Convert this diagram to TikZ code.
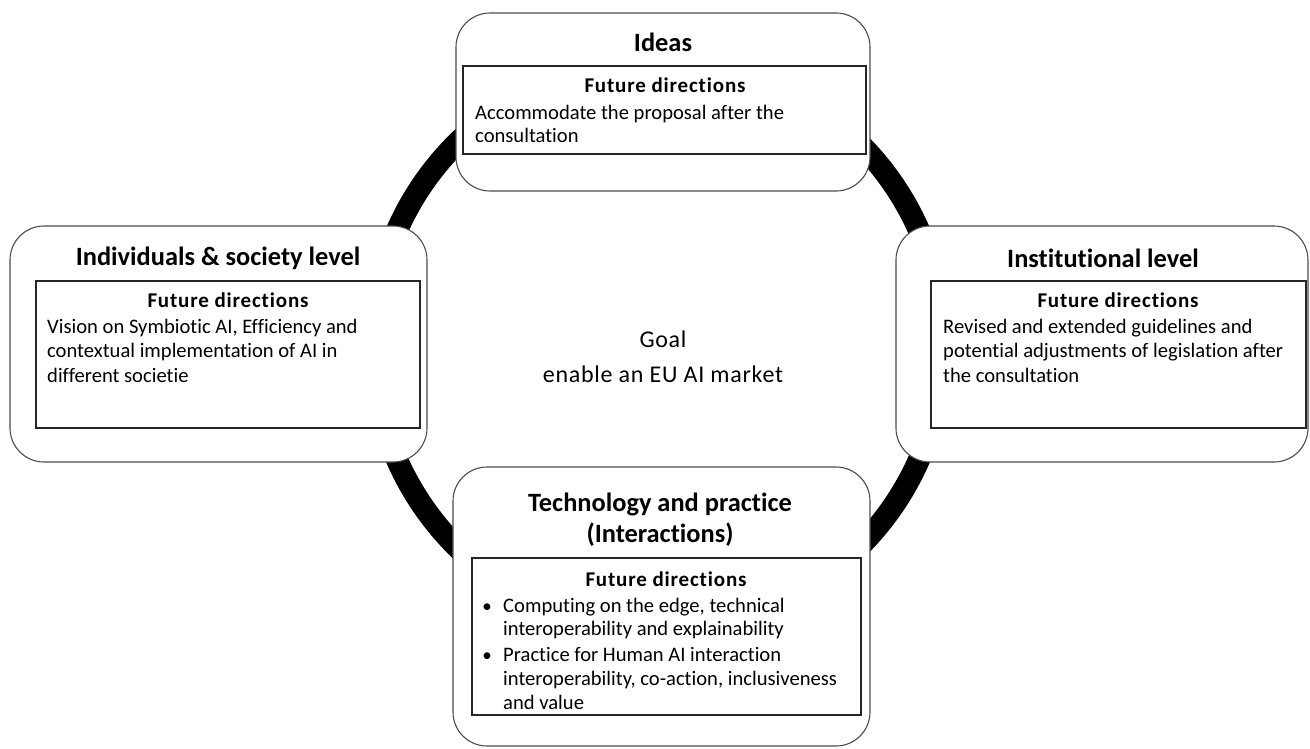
\documentclass[tikz,border=0pt]{standalone}
\usepackage{fontspec}
\setmainfont{Carlito}[Ligatures=NoCommon]
\begin{document}
\begin{tikzpicture}[x=1pt,y=-1pt,
  panel/.style={draw=black!70, line width=1.1pt, fill=white, rounded corners=34pt, inner sep=0pt},
  inbox/.style={draw=black!85, line width=1.2pt, fill=white, inner sep=0pt},
  heading/.style={font=\fontsize{26.4}{31}\selectfont\bfseries, anchor=base, inner sep=0pt},
  subhead/.style={font=\fontsize{21}{25}\selectfont\bfseries\addfontfeatures{LetterSpace=4}, anchor=base, inner sep=0pt},
  body/.style={font=\fontsize{20.6}{24}\selectfont, anchor=base west, inner sep=0pt},
  bul/.style={font=\fontsize{19}{24}\selectfont, anchor=base, inner sep=0pt},
  goal/.style={font=\fontsize{24}{28}\selectfont\addfontfeatures{LetterSpace=3}, anchor=base, inner sep=0pt}]
\useasboundingbox (0,0) rectangle (1310,748);

% the cycle ring behind the four panels
\draw[line width=22pt] (658,345) circle (285pt);

% outer rounded panels
\node[panel, minimum width=414pt, minimum height=178pt] (ideas) at (663,102) {};
\node[panel, minimum width=417pt, minimum height=236pt] (indiv) at (218.5,344) {};
\node[panel, minimum width=412pt, minimum height=236pt] (inst) at (1102,344) {};
\node[panel, minimum width=417pt, minimum height=279pt] (tech) at (661.5,606.5) {};

% inner "future directions" boxes
\node[inbox, minimum width=403pt, minimum height=88pt] (ideasfd) at (664.5,110) {};
\node[inbox, minimum width=384pt, minimum height=147pt] (indivfd) at (228,354.5) {};
\node[inbox, minimum width=375pt, minimum height=147pt] (instfd) at (1118.5,354.5) {};
\node[inbox, minimum width=389pt, minimum height=157pt] (techfd) at (666.5,636.5) {};

% centre goal
\node[goal] (goal1) at (663,347) {Goal};
\node[goal] (goal2) at (663,382) {enable an EU AI market};

% Ideas
\node[heading] (ideast) at (663,51) {Ideas};
\node[subhead] (ideash) at (665,92) {Future directions};
\node[body] (ideas1) at (475,119) {Accommodate the proposal after the};
\node[body] (ideas2) at (475,142.5) {consultation};

% Individuals & society level
\node[heading] (indivt) at (218,265) {Individuals \& society level};
\node[subhead] (indivh) at (228,307) {Future directions};
\node[body] (indiv1) at (47,333) {Vision on Symbiotic AI, Efficiency and};
\node[body] (indiv2) at (47,357.5) {contextual implementation of AI in};
\node[body] (indiv3) at (47,382) {different societie};

% Institutional level
\node[heading] (instt) at (1103,267) {Institutional level};
\node[subhead] (insth) at (1118,307) {Future directions};
\node[body] (inst1) at (943,333) {Revised and extended guidelines and};
\node[body] (inst2) at (943,357.5) {potential adjustments of legislation after};
\node[body] (inst3) at (943,382) {the consultation};

% Technology and practice
\node[heading] (techt1) at (660,511) {Technology and practice};
\node[heading] (techt2) at (660,542) {(Interactions)};
\node[subhead] (techh) at (666,586) {Future directions};
\node[bul] (techb1) at (487,612) {•};
\node[body] (tech1) at (503,612) {Computing on the edge, technical};
\node[body] (tech2) at (503,635.5) {interoperability and explainability};
\node[bul] (techb2) at (487,661) {•};
\node[body] (tech3) at (503,661) {Practice for Human AI interaction};
\node[body] (tech4) at (503,685) {interoperability, co-action, inclusiveness};
\node[body] (tech5) at (503,709) {and value};
\end{tikzpicture}
\end{document}
